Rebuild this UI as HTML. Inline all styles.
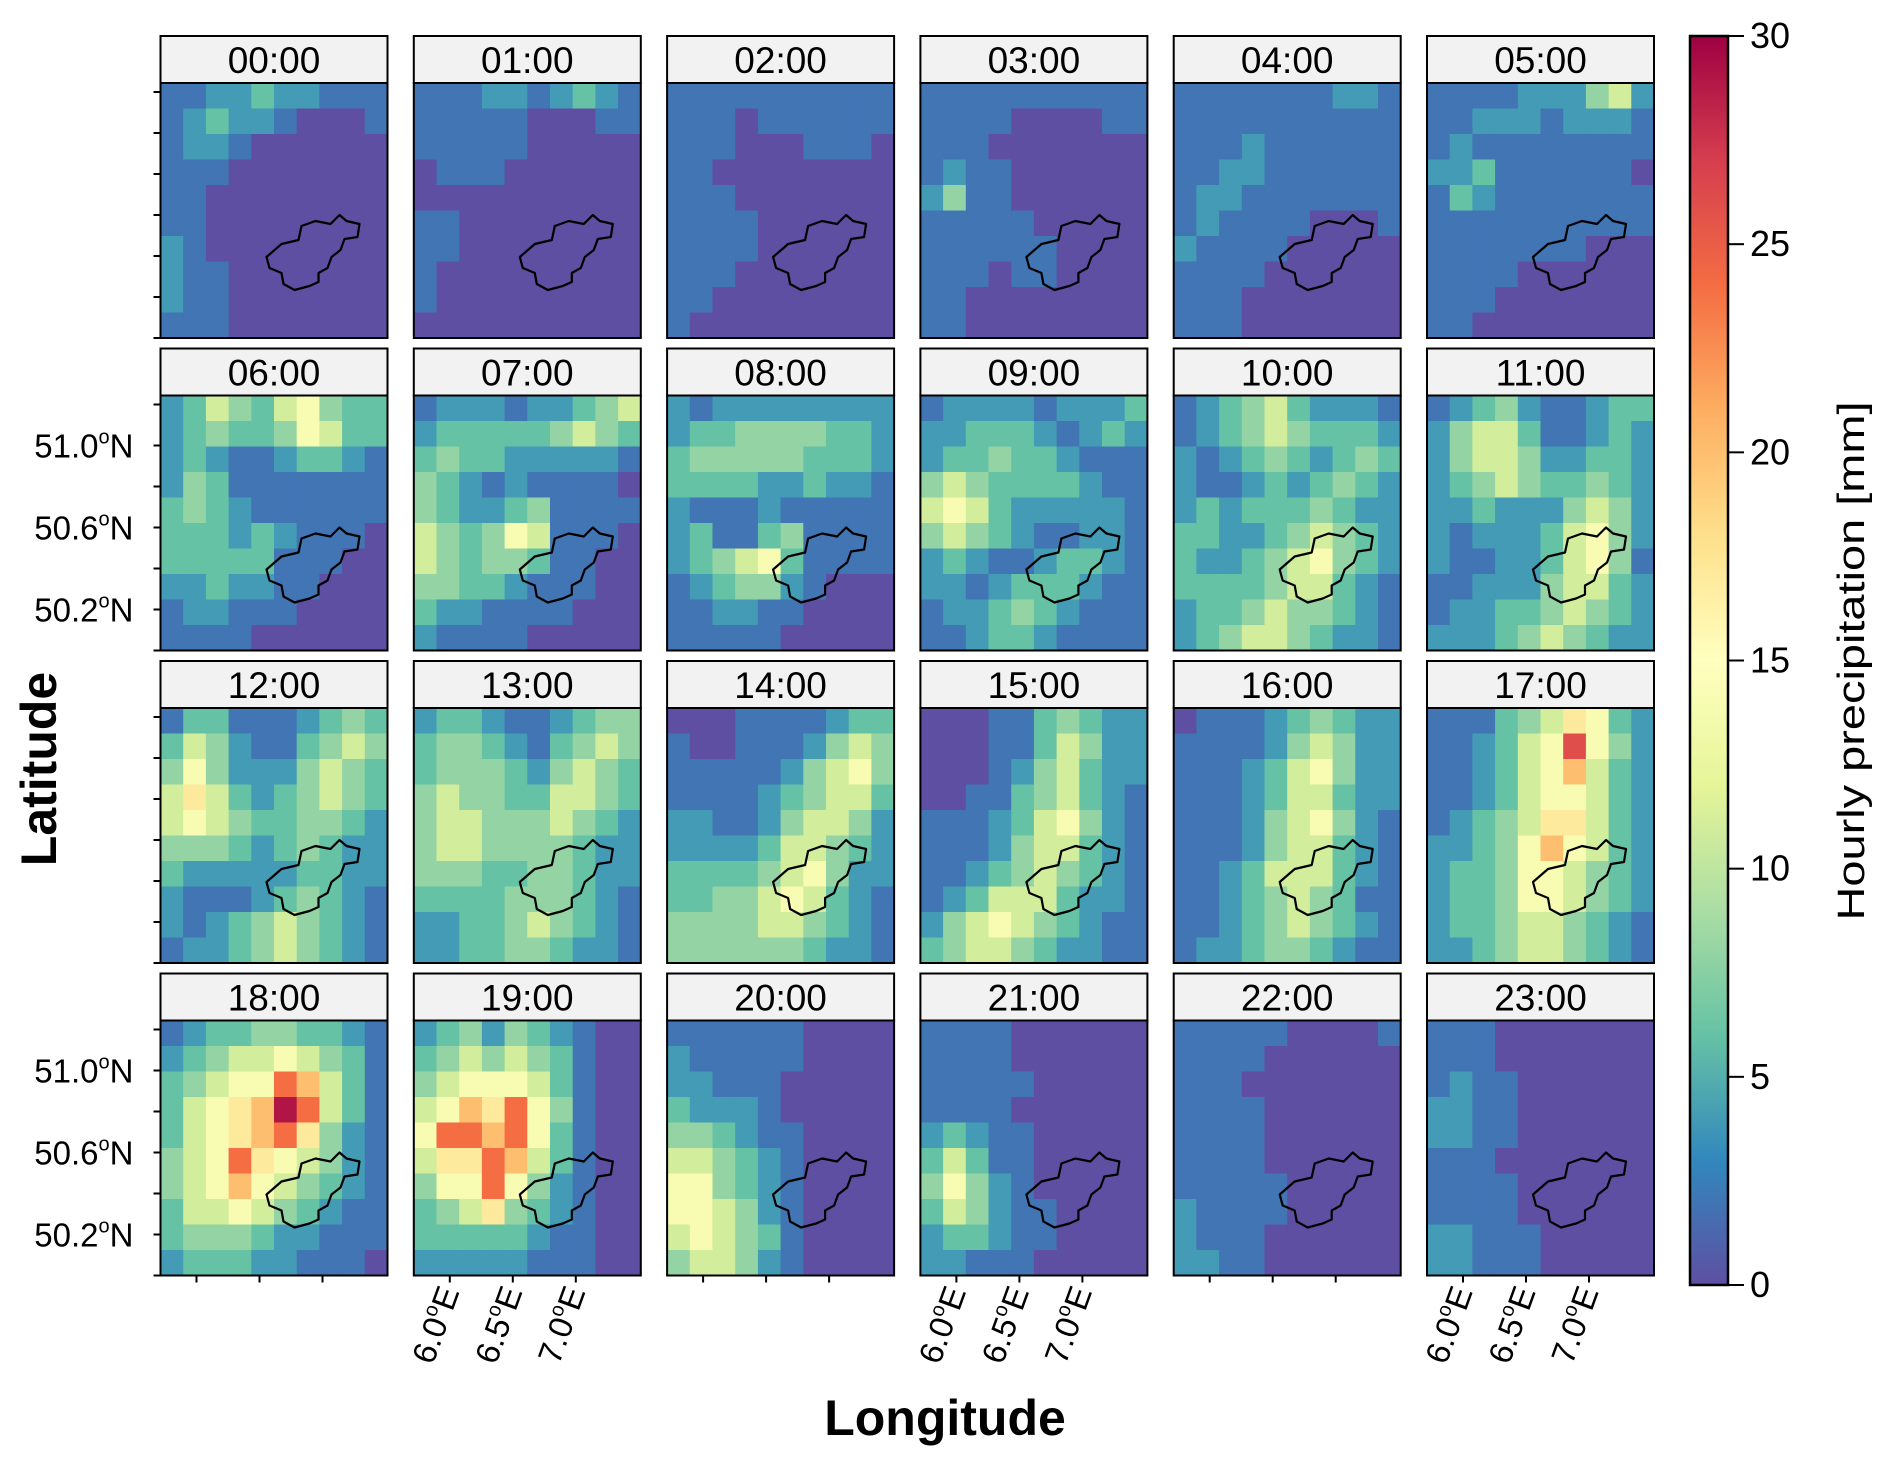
<!DOCTYPE html>
<html><head><meta charset="utf-8"><style>
html,body{margin:0;padding:0;background:#fff;}
svg{display:block;font-family:"Liberation Sans",Arial,sans-serif;}
</style></head><body>
<svg id="fig" width="1892" height="1464" viewBox="0 0 1892 1464" xmlns="http://www.w3.org/2000/svg"></svg>
<script>
const hours=["00:00","01:00","02:00","03:00","04:00","05:00","06:00","07:00","08:00","09:00","10:00","11:00","12:00","13:00","14:00","15:00","16:00","17:00","18:00","19:00","20:00","21:00","22:00","23:00"];
const latTicks=[50.0,50.2,50.4,50.6,50.8,51.0,51.2];
const latLabels=[50.2,50.6,51.0];
const lonTicks=[6.0,6.5,7.0];
const cbTicks=[0,5,10,15,20,25,30];
const h00=[[2,2,4,4,6,4,4,2,2,2],[2,4,6,4,4,2,0,0,0,2],[2,4,4,2,0,0,0,0,0,0],[2,2,2,0,0,0,0,0,0,0],[2,2,0,0,0,0,0,0,0,0],[2,2,0,0,0,0,0,0,0,0],[4,2,0,0,0,0,0,0,0,0],[4,2,2,0,0,0,0,0,0,0],[4,2,2,0,0,0,0,0,0,0],[2,2,2,0,0,0,0,0,0,0]];
const h01=[[2,2,2,4,4,2,4,6,4,2],[2,2,2,2,2,0,0,0,2,2],[2,2,2,2,2,0,0,0,0,0],[0,2,2,2,0,0,0,0,0,0],[0,0,0,0,0,0,0,0,0,0],[2,2,0,0,0,0,0,0,0,0],[2,2,0,0,0,0,0,0,0,0],[2,0,0,0,0,0,0,0,0,0],[2,0,0,0,0,0,0,0,0,0],[0,0,0,0,0,0,0,0,0,0]];
const h02=[[2,2,2,2,2,2,2,2,2,2],[2,2,2,0,2,2,2,2,2,2],[2,2,2,0,0,0,2,2,2,0],[2,2,0,0,0,0,0,0,0,0],[2,2,2,0,0,0,0,0,0,0],[2,2,2,2,0,0,0,0,0,0],[2,2,2,2,0,0,0,0,0,0],[2,2,2,0,0,0,0,0,0,0],[2,2,0,0,0,0,0,0,0,0],[2,0,0,0,0,0,0,0,0,0]];
const h03=[[2,2,2,2,2,2,2,2,2,2],[2,2,2,2,0,0,0,0,2,2],[2,2,2,0,0,0,0,0,0,0],[2,4,2,2,0,0,0,0,0,0],[4,8,2,2,0,0,0,0,0,0],[2,2,2,2,2,0,0,0,0,0],[2,2,2,2,2,2,0,0,0,0],[2,2,2,0,2,2,0,0,0,0],[2,2,0,0,0,0,0,0,0,0],[2,2,0,0,0,0,0,0,0,0]];
const h04=[[2,2,2,2,2,2,2,4,4,2],[2,2,2,2,2,2,2,2,2,2],[2,2,2,4,2,2,2,2,2,2],[2,2,4,4,2,2,2,2,2,2],[2,4,4,2,2,2,2,2,2,2],[2,4,2,2,2,2,0,0,0,2],[4,2,2,2,2,0,0,0,0,0],[2,2,2,2,0,0,0,0,0,0],[2,2,2,0,0,0,0,0,0,0],[2,2,2,0,0,0,0,0,0,0]];
const h05=[[2,2,2,2,4,4,4,8,11,4],[2,2,4,4,4,2,4,4,4,2],[2,4,2,2,2,2,2,2,2,2],[4,4,6,2,2,2,2,2,2,0],[2,6,4,2,2,2,2,2,2,2],[2,2,2,2,2,2,2,2,2,2],[2,2,2,2,2,2,2,0,0,0],[2,2,2,2,0,0,0,0,0,0],[2,2,2,0,0,0,0,0,0,0],[2,2,0,0,0,0,0,0,0,0]];
const h06=[[4,6,11,8,6,11,14,8,6,6],[4,6,8,6,6,8,14,11,6,6],[4,6,4,2,2,4,6,6,4,2],[4,8,6,2,2,2,2,2,2,2],[6,8,6,4,2,2,2,2,2,2],[6,6,6,4,6,4,2,2,2,0],[6,6,6,6,6,2,2,2,0,0],[4,4,6,4,4,2,2,0,0,0],[2,4,4,2,2,2,0,0,0,0],[2,2,2,2,0,0,0,0,0,0]];
const h07=[[2,4,4,4,2,4,4,6,8,11],[4,6,6,6,6,6,8,11,8,6],[6,8,6,6,4,4,4,4,4,2],[8,6,4,2,4,2,2,2,2,0],[8,6,4,4,6,8,2,2,2,2],[11,8,6,8,14,11,2,2,2,0],[11,8,6,8,8,6,2,2,0,0],[8,8,6,6,4,2,2,2,0,0],[6,4,4,2,2,2,2,0,0,0],[4,2,2,2,2,0,0,0,0,0]];
const h08=[[4,2,4,4,4,4,4,4,4,4],[4,6,6,8,8,8,8,6,6,4],[6,8,8,8,8,8,6,6,6,4],[6,6,6,6,4,4,6,4,4,2],[4,2,2,2,4,2,2,2,2,2],[4,6,2,2,6,8,2,2,2,2],[4,6,8,11,14,6,2,2,2,2],[2,4,6,8,8,4,2,0,0,0],[2,2,4,4,2,2,0,0,0,0],[2,2,2,2,2,0,0,0,0,0]];
const h09=[[2,4,4,4,4,2,4,4,4,6],[4,4,6,6,6,4,2,4,6,4],[4,6,6,8,6,6,4,2,2,2],[8,11,8,6,6,6,6,4,2,2],[11,14,11,6,4,4,4,4,4,2],[8,11,8,6,4,2,2,4,4,2],[4,6,4,2,2,4,6,6,4,2],[4,4,2,4,6,6,6,4,2,2],[2,4,4,6,8,6,4,2,2,2],[2,2,4,6,6,4,2,2,2,2]];
const h10=[[2,4,6,8,11,6,4,4,4,2],[2,4,6,8,11,8,6,6,6,4],[4,2,4,6,8,6,4,6,8,6],[4,2,2,4,6,4,6,8,6,4],[4,6,4,6,6,6,8,6,4,4],[6,6,4,4,6,8,11,8,6,4],[6,4,4,6,8,11,14,8,6,4],[6,6,6,6,8,11,11,6,4,2],[4,6,6,8,11,8,8,6,4,2],[4,6,8,11,11,8,6,4,4,2]];
const h11=[[2,4,6,8,4,2,2,4,6,6],[4,8,11,11,6,2,2,4,6,4],[4,8,11,11,8,4,4,6,6,4],[4,6,8,11,8,6,6,8,6,4],[4,4,6,4,4,4,8,11,8,4],[4,2,4,4,4,6,11,14,8,4],[4,2,2,4,4,6,11,14,8,2],[2,2,4,4,4,8,11,11,6,4],[2,4,4,6,6,8,11,8,6,4],[4,4,4,6,8,11,8,6,4,4]];
const h12=[[2,6,6,2,2,2,4,6,8,6],[6,11,8,4,2,2,6,8,11,8],[8,14,8,4,4,4,8,11,8,6],[11,17,11,6,4,6,8,11,8,6],[11,14,11,8,6,6,8,8,6,4],[8,8,8,6,4,6,8,6,4,4],[6,4,4,4,4,4,6,6,4,4],[4,2,2,2,4,6,8,6,4,2],[4,2,4,6,8,11,8,6,4,2],[2,4,4,6,8,11,8,6,4,2]];
const h13=[[4,6,6,4,2,2,4,6,8,8],[6,8,8,6,4,2,6,8,11,8],[6,8,8,8,6,4,8,11,8,6],[8,11,8,8,6,6,11,11,8,6],[8,11,11,8,8,8,11,8,6,4],[8,11,11,8,8,8,8,6,4,4],[8,8,8,6,6,8,8,6,4,4],[6,6,6,6,8,8,8,6,4,2],[4,4,6,6,8,11,8,6,4,2],[4,4,6,6,8,8,6,4,4,2]];
const h14=[[0,0,0,2,2,2,2,4,6,6],[2,0,0,2,2,2,4,8,11,8],[2,2,2,2,2,4,8,11,14,8],[2,2,2,2,4,6,8,11,11,6],[4,4,2,2,4,8,11,11,8,4],[4,4,4,4,6,11,11,8,6,4],[6,6,6,6,8,11,14,8,4,4],[6,6,8,8,11,14,11,6,4,2],[8,8,8,8,11,11,8,6,4,2],[8,8,8,8,8,8,6,4,4,2]];
const h15=[[0,0,0,2,2,6,8,6,4,4],[0,0,0,2,2,6,11,8,4,4],[0,0,0,2,4,8,11,6,4,4],[0,0,2,2,6,8,11,6,4,2],[2,2,2,4,6,11,14,8,4,2],[2,2,2,4,8,11,11,6,4,2],[2,2,4,6,8,11,8,6,4,2],[2,4,6,11,11,11,6,4,4,2],[4,8,11,14,11,8,6,4,2,2],[6,8,11,11,8,6,4,4,2,2]];
const h16=[[0,2,2,2,4,6,8,6,4,4],[2,2,2,2,4,8,11,8,4,4],[2,2,2,4,6,11,14,8,4,4],[2,2,2,4,6,11,11,6,4,4],[2,2,2,4,8,11,14,8,4,2],[2,2,2,4,8,11,11,6,4,2],[2,2,4,6,11,11,11,6,4,2],[2,2,4,6,8,11,8,6,2,2],[2,2,4,6,8,11,8,6,4,2],[2,4,4,6,8,8,6,4,2,2]];
const h17=[[2,2,2,6,8,11,17,14,6,4],[2,2,4,6,11,14,26,14,8,4],[2,2,4,6,11,14,20,11,6,4],[2,2,4,6,11,14,14,11,6,4],[2,4,6,8,11,17,17,11,6,4],[4,4,6,8,14,20,14,11,6,4],[4,6,6,8,14,14,11,8,6,4],[4,6,6,8,14,14,11,8,6,4],[4,6,6,8,11,11,8,6,4,2],[4,4,6,8,11,11,8,6,4,2]];
const h18=[[2,4,6,6,8,8,6,6,4,2],[4,6,8,11,11,14,11,8,6,2],[6,8,11,14,14,24,20,11,6,2],[6,11,14,17,20,29,24,11,6,2],[6,11,14,17,20,24,17,8,4,2],[8,11,14,24,17,14,11,8,4,2],[8,11,14,20,14,11,8,6,4,2],[6,11,11,14,11,8,6,4,2,2],[6,8,8,8,6,4,4,2,2,2],[4,6,6,6,4,4,2,2,2,0]];
const h19=[[4,6,8,4,8,6,4,2,0,0],[6,8,11,8,11,8,6,2,0,0],[8,11,14,14,14,11,6,2,0,0],[11,14,20,17,24,14,8,2,0,0],[14,24,24,20,24,14,6,2,0,0],[11,17,17,24,20,11,6,2,0,0],[8,14,14,24,14,8,4,2,0,0],[6,8,11,17,8,6,4,2,0,0],[6,6,6,6,6,4,2,2,0,0],[4,4,4,4,4,2,2,2,0,0]];
const h20=[[2,2,2,2,2,2,0,0,0,0],[4,2,2,2,2,2,0,0,0,0],[4,4,2,2,2,0,0,0,0,0],[6,4,4,4,2,0,0,0,0,0],[8,8,6,4,2,2,0,0,0,0],[11,11,8,6,4,2,0,0,0,0],[14,14,8,6,4,2,0,0,0,0],[14,14,11,8,4,2,0,0,0,0],[11,14,11,8,6,2,0,0,0,0],[8,11,11,8,4,2,0,0,0,0]];
const h21=[[2,2,2,2,0,0,0,0,0,0],[2,2,2,2,0,0,0,0,0,0],[2,2,2,2,2,0,0,0,0,0],[2,2,2,2,0,0,0,0,0,0],[4,6,4,2,2,0,0,0,0,0],[6,11,6,2,2,0,0,0,0,0],[8,14,8,4,2,0,0,0,0,0],[6,11,8,4,2,2,0,0,0,0],[4,6,6,4,2,2,0,0,0,0],[4,4,2,2,2,0,0,0,0,0]];
const h22=[[2,2,2,2,2,0,0,0,0,2],[2,2,2,2,0,0,0,0,0,0],[2,2,2,0,0,0,0,0,0,0],[2,2,2,2,0,0,0,0,0,0],[2,2,2,2,0,0,0,0,0,0],[2,2,2,2,0,0,0,0,0,0],[2,2,2,2,2,0,0,0,0,0],[4,2,2,2,2,0,0,0,0,0],[4,2,2,2,0,0,0,0,0,0],[4,4,2,2,0,0,0,0,0,0]];
const h23=[[2,2,2,0,0,0,0,0,0,0],[2,2,2,0,0,0,0,0,0,0],[2,4,2,2,0,0,0,0,0,0],[4,4,2,2,0,0,0,0,0,0],[4,4,2,2,0,0,0,0,0,0],[2,2,2,0,0,0,0,0,0,0],[2,2,2,2,0,0,0,0,0,0],[2,2,2,2,0,0,0,0,0,0],[4,4,2,2,2,0,0,0,0,0],[4,4,2,2,2,0,0,0,0,0]];
const grids=[h00,h01,h02,h03,h04,h05,h06,h07,h08,h09,h10,h11,h12,h13,h14,h15,h16,h17,h18,h19,h20,h21,h22,h23];

const NS="http://www.w3.org/2000/svg";
const svg=document.getElementById('fig');
function mk(tag,attrs,parent){const e=document.createElementNS(NS,tag);for(const k in attrs)e.setAttribute(k,attrs[k]);(parent||svg).appendChild(e);return e;}
const stops=["#5e4fa2","#3288bd","#66c2a5","#abdda4","#e6f598","#ffffbf","#fee08b","#fdae61","#f46d43","#d53e4f","#9e0142"];
function hex(c){return [parseInt(c.slice(1,3),16),parseInt(c.slice(3,5),16),parseInt(c.slice(5,7),16)];}
function cmap(v){let t=Math.max(0,Math.min(30,v))/3;let i=Math.min(9,Math.floor(t));let f=t-i;const a=hex(stops[i]),b=hex(stops[i+1]);return "rgb("+a.map((x,k)=>Math.round(x+(b[k]-x)*f)).join(",")+")";}
const X0=160.5,DX=253.3,PW=227,HT0=36,DY=312.5,HH=47,MH=255;
const catchPts=[[106,174],[121,161],[138,157],[141,143],[155,138],[170,141],[179,132],[186,138],[199,141],[197,154],[184,156],[180,167],[171,174],[167,185],[158,190],[158,199],[149,203],[134,207],[123,201],[121,190],[109,185]];
function latY(top,lat){return top+MH-(lat-50.0)*205;}
function lonX(left,lon){return left+36+(lon-6.0)*126;}

grids.forEach((g,p)=>{
  const col=p%6,row=Math.floor(p/6);
  const left=X0+col*DX,htop=HT0+row*DY,mtop=htop+HH;
  const grp=mk('g',{});
  
  
  const hb=mk('rect',{x:left,y:htop,width:PW,height:HH,fill:'#f2f2f2',stroke:'#000','stroke-width':2},grp);
  
  
  const ht=mk('text',{x:left+PW/2,y:htop+37,'text-anchor':'middle','font-size':37,fill:'#000'},grp);
  ht.textContent=hours[p];
  
  
  const nr=g.length,nc=g[0].length,cw=PW/nc,ch=MH/nr;
  g.forEach((r,ri)=>r.forEach((v,ci)=>{
    const c=mk('rect',{x:left+ci*cw,y:mtop+ri*ch,width:cw+0.6,height:ch+0.6,fill:cmap(v)},grp);
    
    
  }));
  const pl=mk('polygon',{points:catchPts.map(q=>(left+q[0])+','+(mtop+q[1])).join(' '),fill:'none',stroke:'#000','stroke-width':2.2,'stroke-linejoin':'round'},grp);
  
  
  const fr=mk('rect',{x:left,y:mtop,width:PW,height:MH,fill:'none',stroke:'#000','stroke-width':2},grp);
  
  
  if(col===0){
    latTicks.forEach(lat=>{const y=latY(mtop,lat);const t=mk('line',{x1:left-7,x2:left,y1:y,y2:y,stroke:'#000','stroke-width':2},grp);
      });
    if(row===1||row===3){
      latLabels.forEach(lat=>{const y=latY(mtop,lat);
        const tx=mk('text',{x:left-27,y:y+12,'text-anchor':'end','font-size':33,fill:'#000'},grp);
        tx.innerHTML=lat.toFixed(1)+'<tspan font-size="20" dy="-14">o</tspan><tspan dy="14">N</tspan>';
        });
    }
  }
  if(row===3){
    lonTicks.forEach(lon=>{const x=lonX(left,lon);const t=mk('line',{x1:x,x2:x,y1:mtop+MH,y2:mtop+MH+7,stroke:'#000','stroke-width':2},grp);
      
      if(col%2===1){
        const y=mtop+MH+16;
        const tx=mk('text',{x:x+10,y:y,'text-anchor':'end','font-size':33,fill:'#000',transform:'rotate(-70 '+(x+10)+' '+y+')'},grp);
        tx.innerHTML=lon.toFixed(1)+'<tspan font-size="20" dy="-14">o</tspan><tspan dy="14">E</tspan>';
        
      }});
  }
});

const cbX=1690,cbW=38,cbT=36,cbB=1285;
const defs=mk('defs',{});
const lg=mk('linearGradient',{id:'cbg',x1:0,y1:1,x2:0,y2:0},defs);
stops.forEach((s,i)=>mk('stop',{offset:(i/10),'stop-color':s},lg));
const cb=mk('rect',{x:cbX,y:cbT,width:cbW,height:cbB-cbT,fill:'url(#cbg)',stroke:'#000','stroke-width':2.5});


cbTicks.forEach(v=>{const y=cbB-(v/30)*(cbB-cbT);
  const t=mk('line',{x1:cbX+cbW,x2:cbX+cbW+16,y1:y,y2:y,stroke:'#000','stroke-width':2});
  
  const tx=mk('text',{x:cbX+cbW+22,y:y+12,'font-size':36,fill:'#000'});tx.textContent=v;
  });
const cl=mk('text',{x:0,y:0,'font-size':38,'text-anchor':'middle',fill:'#000',transform:'translate(1864 661) rotate(-90)',textLength:519,lengthAdjust:'spacingAndGlyphs'});
cl.textContent='Hourly precipitation [mm]';


const yl=mk('text',{x:0,y:0,'font-size':50,'font-weight':'bold','text-anchor':'middle',fill:'#000',transform:'translate(56 769) rotate(-90)'});
yl.textContent='Latitude';


const xl=mk('text',{x:945,y:1435,'font-size':50,'font-weight':'bold','text-anchor':'middle',fill:'#000'});
xl.textContent='Longitude';


</script>
</body></html>
